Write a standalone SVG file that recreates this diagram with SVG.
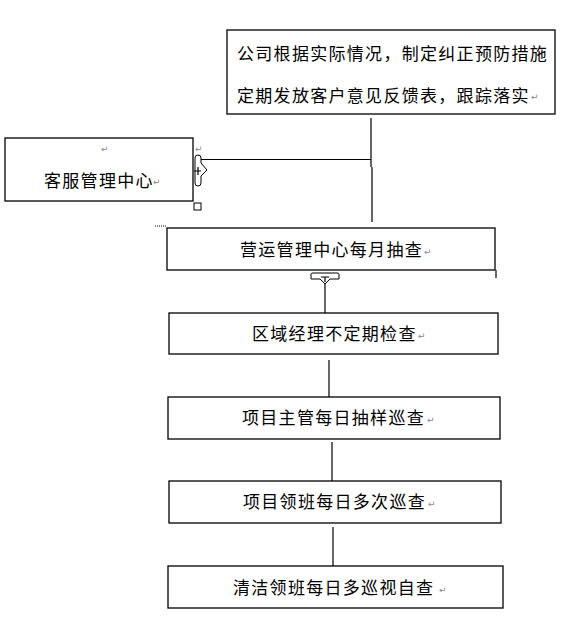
<svg xmlns="http://www.w3.org/2000/svg" width="585" height="619" viewBox="0 0 585 619">
<style>
.box{fill:#fff;stroke:#000;stroke-width:1.3}
.t{font-family:"Noto Sans CJK SC","Noto Sans CJK JP",sans-serif;font-size:17px;fill:#000;letter-spacing:1.3px}
.rm{font-family:"DejaVu Sans",sans-serif;font-size:9px;fill:#888}
.ln{stroke:#000;stroke-width:1.2;fill:none}
.h{fill:#fff;stroke:#000;stroke-width:1}
</style>
<rect width="585" height="619" fill="#fff"/>
<g id="connectors">
<path class="ln" d="M371 118V167M372 167V222"/>
<path class="ln" d="M199 159.5H371"/>
<path class="ln" d="M325 282V313"/>
<path class="ln" d="M329 360V397"/>
<path class="ln" d="M332 442V481"/>
<path class="ln" d="M333 527V567"/>
<path class="ln" d="M496 270V278"/>
</g>
<g id="n-company">
<rect class="box" x="227" y="30" width="328" height="84"/>
<text class="t" x="237" y="60">公司根据实际情况，制定纠正预防措施</text>
<text class="t" x="237" y="102">定期发放客户意见反馈表，跟踪落实</text>
<text class="rm" x="531" y="100">↵</text>
</g>
<g id="n-service">
<rect class="box" x="5" y="138" width="188" height="63"/>
<text class="rm" x="101" y="152">↵</text>
<text class="t" x="44" y="187">客服管理中心</text>
<text class="rm" x="153" y="185">↵</text>
<text class="rm" x="195" y="152">↵</text>
<path class="h" d="M195 158a3 3 0 0 1 6 0v5l6 7-6 6v7a3 3 0 0 1-6 0z"/>
<path class="ln" d="M198 167v8M194 171h7" stroke-width="1"/>
<rect class="h" x="194" y="203" width="7" height="7"/>
</g>
<g id="n-ops">
<rect class="box" x="167" y="228" width="328" height="42"/>
<path d="M155 226H167" stroke="#000" stroke-width="1" stroke-dasharray="1 1"/>
<text class="t" x="240" y="256">营运管理中心每月抽查</text>
<text class="rm" x="424" y="255">↵</text>
<path class="h" d="M311 274q0-1 2-1h24q2 0 2 1v5h-9l-5 5-5-5h-9z"/>
<path class="ln" d="M321 277h8M325 277v5" stroke-width="0.8"/>
</g>
<g id="n-region">
<rect class="box" x="169" y="313" width="329" height="41"/>
<text class="t" x="252" y="340">区域经理不定期检查</text>
<text class="rm" x="418" y="339">↵</text>
</g>
<g id="n-supervisor">
<rect class="box" x="168" y="397" width="332" height="42"/>
<text class="t" x="242" y="424">项目主管每日抽样巡查</text>
<text class="rm" x="427" y="423">↵</text>
</g>
<g id="n-leader">
<rect class="box" x="169" y="481" width="332" height="42"/>
<text class="t" x="243" y="508">项目领班每日多次巡查</text>
<text class="rm" x="428" y="507">↵</text>
</g>
<g id="n-clean">
<rect class="box" x="168" y="566" width="335" height="42"/>
<text class="t" x="233" y="594">清洁领班每日多巡视自查</text>
<text class="rm" x="439" y="593">↵</text>
</g>
</svg>
